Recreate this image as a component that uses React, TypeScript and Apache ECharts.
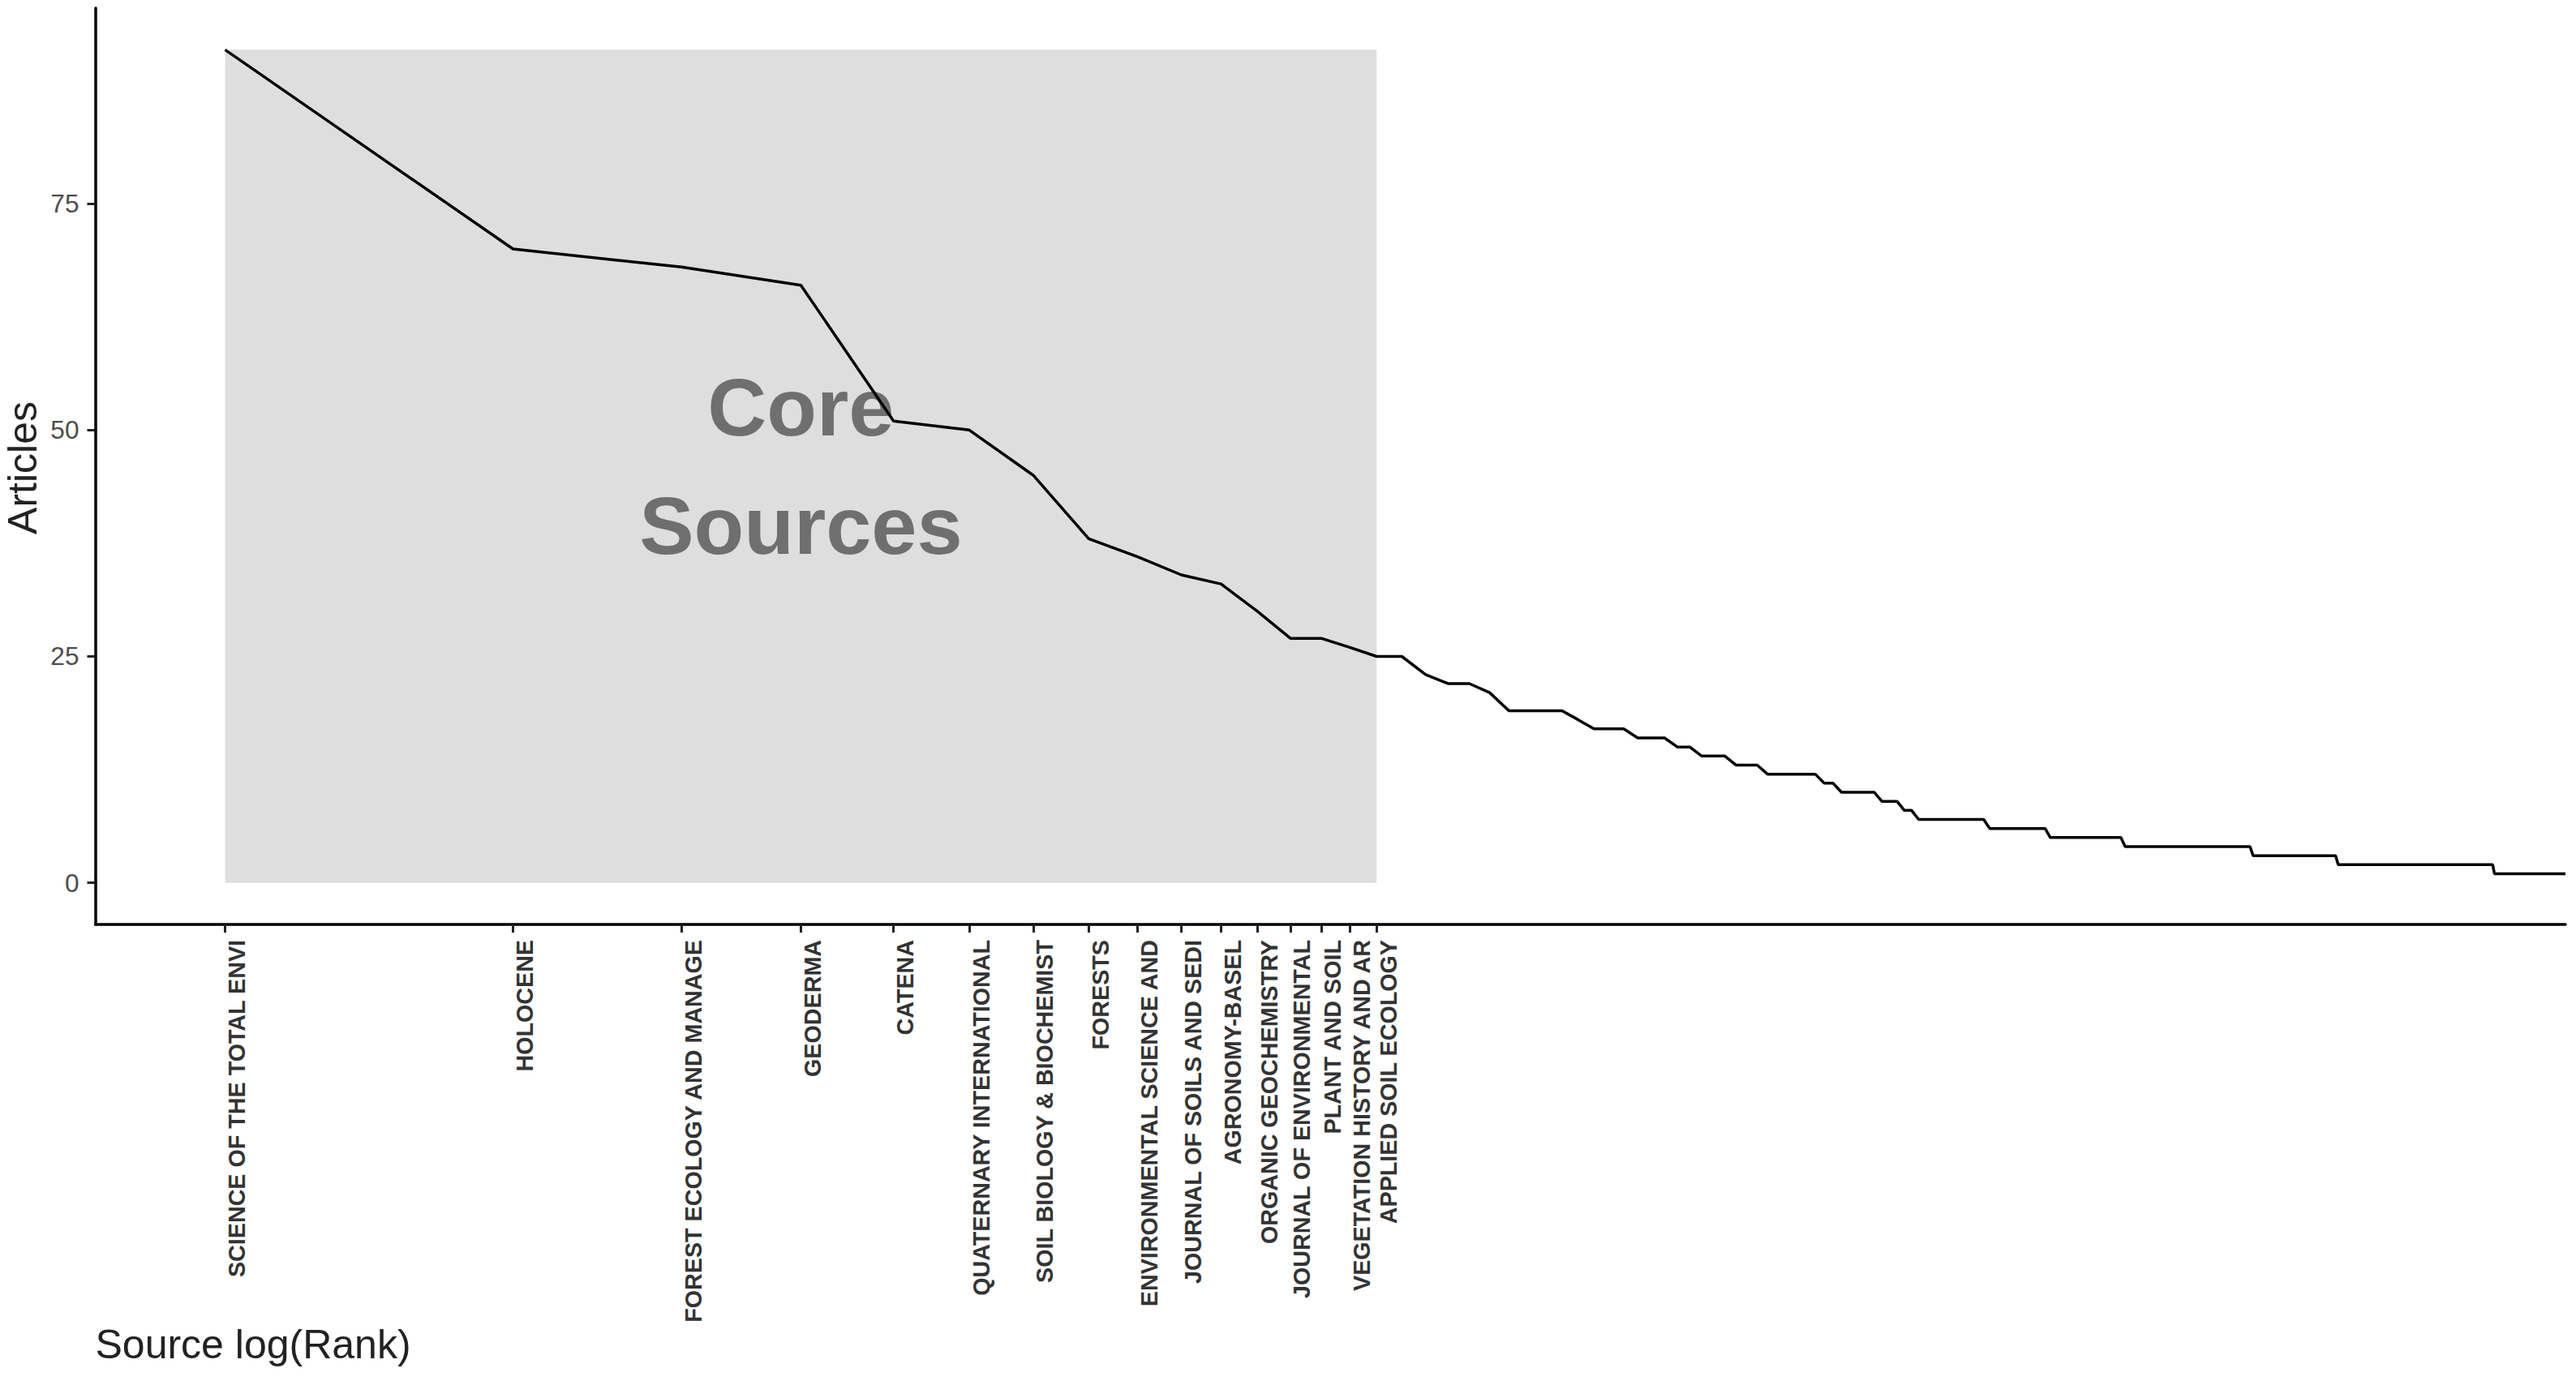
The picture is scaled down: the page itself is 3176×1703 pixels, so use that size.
import React, { useEffect, useRef } from "react";
import * as echarts from "echarts";

// Articles per source, ordered by rank (rank 1 .. 280)
const RANK_FREQ: number[] = [
  92, 70, 68, 66, 51, 50, 45, 38, 36, 34,
  33, 30, 27, 27, 26, 25, 25, 23, 22, 22,
  21, 19, 19, 19, 19, 18, 17, 17, 17, 16,
  16, 16, 15, 15, 14, 14, 14, 13, 13, 13,
  12, 12, 12, 12, 12, 12, 11, 11, 10, 10,
  10, 10, 10, 9, 9, 9, 8, 8, 7, 7,
  7, 7, 7, 7, 7, 7, 7, 7, 7, 6,
  6, 6, 6, 6, 6, 6, 6, 6, 6, 6,
  5, 5, 5, 5, 5, 5, 5, 5, 5, 5,
  5, 5, 5, 5, 5, 5, 4, 4, 4, 4,
  4, 4, 4, 4, 4, 4, 4, 4, 4, 4,
  4, 4, 4, 4, 4, 4, 4, 4, 4, 4,
  4, 4, 4, 4, 4, 4, 4, 4, 4, 4,
  4, 3, 3, 3, 3, 3, 3, 3, 3, 3,
  3, 3, 3, 3, 3, 3, 3, 3, 3, 3,
  3, 3, 3, 3, 3, 3, 3, 3, 3, 3,
  3, 2, 2, 2, 2, 2, 2, 2, 2, 2,
  2, 2, 2, 2, 2, 2, 2, 2, 2, 2,
  2, 2, 2, 2, 2, 2, 2, 2, 2, 2,
  2, 2, 2, 2, 2, 2, 2, 2, 2, 2,
  2, 2, 2, 2, 2, 2, 2, 2, 2, 2,
  2, 2, 2, 2, 2, 2, 2, 2, 2, 2,
  2, 2, 2, 2, 2, 2, 2, 2, 2, 2,
  2, 2, 2, 2, 2, 1, 1, 1, 1, 1,
  1, 1, 1, 1, 1, 1, 1, 1, 1, 1,
  1, 1, 1, 1, 1, 1, 1, 1, 1, 1,
  1, 1, 1, 1, 1, 1, 1, 1, 1, 1,
  1, 1, 1, 1, 1, 1, 1, 1, 1, 1,
];

// Core sources (Bradford zone 1), truncated to 25 characters as in the figure
const CORE_SOURCES: string[] = [
  "SCIENCE OF THE TOTAL ENVI",
  "HOLOCENE",
  "FOREST ECOLOGY AND MANAGE",
  "GEODERMA",
  "CATENA",
  "QUATERNARY INTERNATIONAL",
  "SOIL BIOLOGY & BIOCHEMIST",
  "FORESTS",
  "ENVIRONMENTAL SCIENCE AND",
  "JOURNAL OF SOILS AND SEDI",
  "AGRONOMY-BASEL",
  "ORGANIC GEOCHEMISTRY",
  "JOURNAL OF ENVIRONMENTAL",
  "PLANT AND SOIL",
  "VEGETATION HISTORY AND AR",
  "APPLIED SOIL ECOLOGY",
];

const Y_TICKS: number[] = [0, 25, 50, 75];
const CORE_TEXT = "Core\nSources";
const X_TITLE = "Source log(Rank)";
const Y_TITLE = "Articles";

const FONT = "'Liberation Sans', Arial, Helvetica, sans-serif";

export default function App() {
  const ref = useRef<HTMLDivElement>(null);

  useEffect(() => {
    if (!ref.current) return;
    const chart = echarts.init(ref.current, undefined, { renderer: "svg" });

    const seriesData = RANK_FREQ.map((f, i) => [Math.log(i + 1), f]);
    const coreTicks = CORE_SOURCES.map((_, i) => Math.log(i + 1));
    const coreEnd = Math.log(CORE_SOURCES.length);
    const maxFreq = Math.max(...RANK_FREQ);
    const lastX = Math.log(RANK_FREQ.length);

    const labelFor = (v: number) => {
      for (let i = 0; i < coreTicks.length; i++) {
        if (Math.abs(coreTicks[i] - v) < 1e-6) return CORE_SOURCES[i];
      }
      return "";
    };

    chart.setOption({
      animation: false,
      grid: { left: 117.5, right: 13, top: 10, bottom: 563, containLabel: false },
      xAxis: {
        type: "value",
        min: -0.3125,
        max: lastX,
        splitLine: { show: false },
        axisLine: { show: true, onZero: false, lineStyle: { color: "#000", width: 3.5 } },
        axisTick: {
          show: true,
          customValues: coreTicks,
          length: 10,
          lineStyle: { color: "#222", width: 3 },
        },
        axisLabel: {
          customValues: coreTicks,
          rotate: 90,
          margin: 19,
          fontSize: 28.7,
          fontWeight: "bold",
          fontFamily: FONT,
          color: "#333",
          verticalAlign: "top",
          hideOverlap: false,
          formatter: (v: number) => labelFor(v),
        },
      },
      yAxis: {
        type: "value",
        min: -4.6,
        max: 96.6,
        splitLine: { show: false },
        axisLine: { show: true, onZero: false, lineStyle: { color: "#000", width: 3.5 } },
        axisTick: {
          show: true,
          customValues: Y_TICKS,
          length: 10,
          lineStyle: { color: "#222", width: 3 },
        },
        axisLabel: {
          customValues: Y_TICKS,
          margin: 20,
          fontSize: 31.6,
          fontFamily: FONT,
          color: "#4d4d4d",
        },
      },
      graphic: [
        {
          type: "text",
          left: 117.5,
          top: 1633,
          style: {
            text: X_TITLE,
            fontSize: 50,
            fontFamily: FONT,
            fill: "#222",
          },
        },
        {
          type: "text",
          x: 28,
          y: 577,
          rotation: Math.PI / 2,
          style: {
            text: Y_TITLE,
            fontSize: 50,
            fontFamily: FONT,
            fill: "#222",
            align: "center",
            verticalAlign: "middle",
          },
        },
      ],
      series: [
        {
          type: "line",
          data: seriesData,
          symbol: "none",
          lineStyle: { color: "#000", width: 3.5 },
          z: 3,
          markArea: {
            silent: true,
            itemStyle: { color: "#dedede" },
            data: [[{ xAxis: 0, yAxis: 0 }, { xAxis: coreEnd, yAxis: maxFreq }]],
          },
          markPoint: {
            silent: true,
            symbol: "rect",
            symbolSize: 1,
            itemStyle: { color: "rgba(0,0,0,0)" },
            label: {
              show: true,
              position: "inside",
              formatter: CORE_TEXT,
              fontSize: 101,
              fontWeight: "bold",
              fontFamily: FONT,
              color: "rgba(0,0,0,0.5)",
              lineHeight: 146,
              align: "center",
              verticalAlign: "middle",
            },
            data: [{ coord: [coreEnd / 2, maxFreq / 2] }],
          },
        },
      ],
    });

    return () => chart.dispose();
  }, []);

  return (
    <div
      ref={ref}
      style={{ position: "fixed", left: 0, top: 0, width: 3176, height: 1703, background: "#fff" }}
    />
  );
}
